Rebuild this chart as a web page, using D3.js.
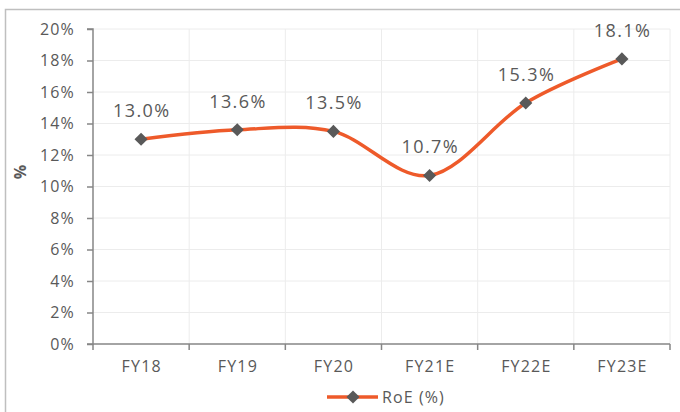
<!DOCTYPE html>
<html>
<head>
<meta charset="utf-8">
<script src="https://cdn.jsdelivr.net/npm/d3@7"></script>
<style>
  body { margin: 0; background: #fff; }
  text { font-family: "Open Sans", sans-serif; fill: #595959; }
</style>
</head>
<body>
<svg width="680" height="412"></svg>
<script>
const categories = ['FY18', 'FY19', 'FY20', 'FY21E', 'FY22E', 'FY23E'];
const roe = [13.0, 13.6, 13.5, 10.7, 15.3, 18.1];
const yTicks = [0, 2, 4, 6, 8, 10, 12, 14, 16, 18, 20];

const svg = d3.select('svg');

// outer chart border (left + top visible)
svg.append('path')
    .attr('d', 'M5.5,412 V9.5 H680')
    .attr('fill', 'none')
    .attr('stroke', '#bfbfbf')
    .attr('stroke-width', 1.5);

const plotLeft = 93, plotRight = 670, plotTop = 29, plotBottom = 344;

const xScale = d3.scaleBand()
    .domain(categories)
    .range([plotLeft, plotRight]);

const yScale = d3.scaleLinear()
    .domain([0, 20])
    .range([plotBottom, plotTop]);

// horizontal grid
svg.append('g')
    .selectAll('line')
    .data(yTicks.slice(1))
    .join('line')
    .attr('x1', plotLeft).attr('x2', plotRight)
    .attr('y1', d => yScale(d)).attr('y2', d => yScale(d))
    .attr('stroke', '#ececec');

// vertical grid
svg.append('g')
    .selectAll('line')
    .data(categories)
    .join('line')
    .attr('x1', d => xScale(d) + xScale.bandwidth())
    .attr('x2', d => xScale(d) + xScale.bandwidth())
    .attr('y1', plotTop).attr('y2', plotBottom)
    .attr('stroke', '#ececec');

// y axis
const yAxis = svg.append('g')
    .attr('transform', `translate(${plotLeft},0)`)
    .call(d3.axisLeft(yScale).tickValues(yTicks).tickSize(6).tickPadding(12).tickFormat(d => d + '%'));
yAxis.select('.domain').attr('stroke', '#868686').attr('stroke-width', 1.5).attr('d', `M-6,${plotTop}H0V${plotBottom}H-6`);
yAxis.selectAll('.tick line').attr('stroke', '#868686').attr('stroke-width', 1.5);
yAxis.selectAll('.tick text').attr('font-size', 16).attr('letter-spacing', 1.2).attr('fill', '#595959');

// x axis
const xTickPos = [plotLeft].concat(categories.map(c => xScale(c) + xScale.bandwidth()));
const xAxis = svg.append('g')
    .attr('transform', `translate(0,${plotBottom})`)
    .call(d3.axisBottom(xScale).tickSize(0).tickPadding(17));
xAxis.select('.domain').attr('stroke', '#868686').attr('stroke-width', 1.5).attr('d', `M${plotLeft},0H${plotRight}`);
xAxis.selectAll('.tick text').attr('font-size', 16).attr('letter-spacing', 1.2).attr('dx', 0.6).attr('fill', '#595959');
xAxis.selectAll('.xt')
    .data(xTickPos)
    .join('line')
    .attr('x1', d => d).attr('x2', d => d)
    .attr('y1', 0).attr('y2', 6)
    .attr('stroke', '#868686').attr('stroke-width', 1.5);

// y label
svg.append('text')
    .attr('transform', 'translate(26,172) rotate(-90)')
    .attr('text-anchor', 'middle')
    .attr('font-size', 16)
    .attr('font-weight', 'bold')
    .text('%');

const pts = categories.map((c, i) => [xScale(c) + xScale.bandwidth() / 2, yScale(roe[i])]);

const line = d3.line().curve(d3.curveCatmullRom.alpha(0));

svg.append('path')
    .attr('d', line(pts))
    .attr('fill', 'none')
    .attr('stroke', '#EE5A2A')
    .attr('stroke-width', 3.5);

const diamond = d3.symbol().type(d3.symbolDiamond2).size(110);

svg.append('g')
    .selectAll('path')
    .data(pts)
    .join('path')
    .attr('transform', d => `translate(${d[0]},${d[1]})`)
    .attr('d', diamond)
    .attr('fill', '#595959');

svg.append('g')
    .selectAll('text')
    .data(pts)
    .join('text')
    .attr('x', d => d[0] + 0.7)
    .attr('y', d => d[1] - 22)
    .attr('text-anchor', 'middle')
    .attr('font-size', 18)
    .attr('letter-spacing', 1.4)
    .text((d, i) => roe[i].toFixed(1) + '%');

// legend
const lg = svg.append('g').attr('transform', 'translate(327,397)');
lg.append('line').attr('x1', 0).attr('x2', 51).attr('y1', 0).attr('y2', 0)
    .attr('stroke', '#EE5A2A').attr('stroke-width', 3.5);
lg.append('path').attr('transform', 'translate(26,0)').attr('d', diamond).attr('fill', '#595959');
lg.append('text').attr('x', 55).attr('y', 6).attr('font-size', 16).attr('letter-spacing', 1.1).text('RoE (%)');
</script>
</body>
</html>
